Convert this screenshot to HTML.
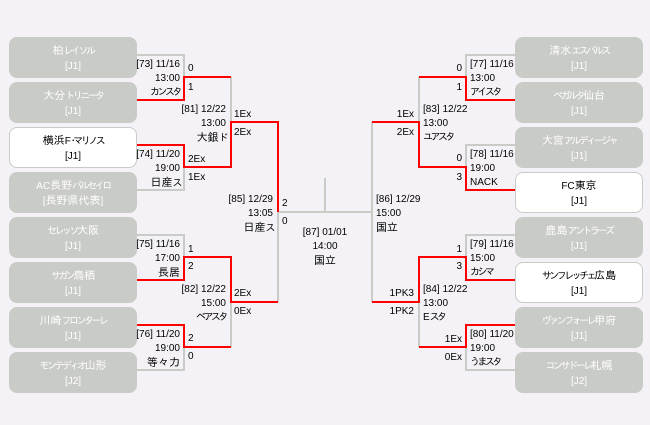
<!DOCTYPE html>
<html><head><meta charset="utf-8"><style>
html,body{margin:0;padding:0;width:650px;height:425px;overflow:hidden;background:#f4f2f6}
body{position:relative;font:10px/14px "Liberation Sans","IPAGothic","Noto Sans CJK JP",sans-serif;color:#000}
.b{position:absolute;width:128px;height:41px;border-radius:8px;background:#c9cbc7;color:#fff;text-align:center;line-height:15px;padding-top:7px;box-sizing:border-box;font-size:10px}
.w{background:#fff;color:#000;border:1px solid #c9cbc7;padding-top:6px}
.l,.r,.c{position:absolute;white-space:nowrap;height:14px}
.l{transform:translate(0,-6px)}
.r{transform:translate(-100%,-6px)}
.c{transform:translate(-50%,-6px)}
i{font-style:normal;font-size:10px;letter-spacing:-2.5px}
u{text-decoration:none;font-size:11px}
svg{position:absolute;left:0;top:0}
</style></head><body>
<div class="b" style="left:9px;top:37px"><u>柏</u><i>レイソル</i><br>[J1]</div>
<div class="b" style="left:9px;top:82px"><u>大分</u><i>トリニータ</i><br>[J1]</div>
<div class="b w" style="left:9px;top:127px"><u>横浜</u>F<i>･マリノス</i><br>[J1]</div>
<div class="b" style="left:9px;top:172px">AC<u>長野</u><i>パルセイロ</i><br>[<u>長野県代表</u>]</div>
<div class="b" style="left:9px;top:217px"><i>セレッソ</i><u>大阪</u><br>[J1]</div>
<div class="b" style="left:9px;top:262px"><i>サガン</i><u>鳥栖</u><br>[J1]</div>
<div class="b" style="left:9px;top:307px"><u>川崎</u><i>フロンターレ</i><br>[J1]</div>
<div class="b" style="left:9px;top:352px"><i>モンテディオ</i><u>山形</u><br>[J2]</div>
<div class="b" style="left:515px;top:37px"><u>清水</u><i>エスパルス</i><br>[J1]</div>
<div class="b" style="left:515px;top:82px"><i>ベガルタ</i><u>仙台</u><br>[J1]</div>
<div class="b" style="left:515px;top:127px"><u>大宮</u><i>アルディージャ</i><br>[J1]</div>
<div class="b w" style="left:515px;top:172px">FC<u>東京</u><br>[J1]</div>
<div class="b" style="left:515px;top:217px"><u>鹿島</u><i>アントラーズ</i><br>[J1]</div>
<div class="b w" style="left:515px;top:262px"><i>サンフレッチェ</i><u>広島</u><br>[J1]</div>
<div class="b" style="left:515px;top:307px"><i>ヴァンフォーレ</i><u>甲府</u><br>[J1]</div>
<div class="b" style="left:515px;top:352px"><i>コンサドーレ</i><u>札幌</u><br>[J2]</div>
<svg width="650" height="425" fill="none" stroke-width="2">
<g stroke="#c9cbc7">
<path d="M137 55H184V77M137 190H184V167M231 77V122M137 235H184V257M137 370H184V347M231 302V347"/>
<path d="M515 55H466V77M515 145H466V167M419 77V122M515 235H466V257M515 370H466V347M419 302V347"/>
<path d="M278 212V302M278 212H372M325 178V212M372 122V302"/>
</g>
<g stroke="#ff0000">
<path d="M137 100H184V77H231M137 145H184V167H231V122H278V212"/>
<path d="M137 280H184V257H231V302H278M137 325H184V347H231"/>
<path d="M515 100H466V77H419M515 190H466V167H419V122H372"/>
<path d="M515 280H466V257H419V302H372M515 325H466V347H419"/>
</g>
</svg>
<span class="r" style="left:180px;top:64px">[73] 11/16</span><span class="r" style="left:180px;top:78px">13:00</span><span class="r" style="left:180px;top:92px"><i>カンスタ</i></span>
<span class="r" style="left:180px;top:154px">[74] 11/20</span><span class="r" style="left:180px;top:168px">19:00</span><span class="r" style="left:180px;top:182px"><u>日産</u><i>ス</i></span>
<span class="r" style="left:180px;top:244px">[75] 11/16</span><span class="r" style="left:180px;top:258px">17:00</span><span class="r" style="left:180px;top:272px"><u>長居</u></span>
<span class="r" style="left:180px;top:334px">[76] 11/20</span><span class="r" style="left:180px;top:348px">19:00</span><span class="r" style="left:180px;top:362px"><u>等々力</u></span>
<span class="r" style="left:226px;top:109px">[81] 12/22</span><span class="r" style="left:226px;top:123px">13:00</span><span class="r" style="left:226px;top:137px"><u>大銀</u><i>ド</i></span>
<span class="r" style="left:226px;top:289px">[82] 12/22</span><span class="r" style="left:226px;top:303px">15:00</span><span class="r" style="left:226px;top:317px"><i>ベアスタ</i></span>
<span class="r" style="left:273px;top:199px">[85] 12/29</span><span class="r" style="left:273px;top:213px">13:05</span><span class="r" style="left:273px;top:227px"><u>日産</u><i>ス</i></span>
<span class="c" style="left:325px;top:232px">[87] 01/01</span><span class="c" style="left:325px;top:246px">14:00</span><span class="c" style="left:325px;top:260px"><u>国立</u></span>
<span class="l" style="left:376px;top:199px">[86] 12/29</span><span class="l" style="left:376px;top:213px">15:00</span><span class="l" style="left:376px;top:227px"><u>国立</u></span>
<span class="l" style="left:470px;top:64px">[77] 11/16</span><span class="l" style="left:470px;top:78px">13:00</span><span class="l" style="left:470px;top:92px"><i>アイスタ</i></span>
<span class="l" style="left:470px;top:154px">[78] 11/16</span><span class="l" style="left:470px;top:168px">19:00</span><span class="l" style="left:470px;top:182px">NACK</span>
<span class="l" style="left:470px;top:244px">[79] 11/16</span><span class="l" style="left:470px;top:258px">15:00</span><span class="l" style="left:470px;top:272px"><i>カシマ</i></span>
<span class="l" style="left:470px;top:334px">[80] 11/20</span><span class="l" style="left:470px;top:348px">19:00</span><span class="l" style="left:470px;top:362px"><i>うまスタ</i></span>
<span class="l" style="left:423px;top:109px">[83] 12/22</span><span class="l" style="left:423px;top:123px">13:00</span><span class="l" style="left:423px;top:137px"><i>ユアスタ</i></span>
<span class="l" style="left:423px;top:289px">[84] 12/22</span><span class="l" style="left:423px;top:303px">13:00</span><span class="l" style="left:423px;top:317px">E<i>スタ</i></span>
<span class="l" style="left:188px;top:68px">0</span><span class="l" style="left:188px;top:87px">1</span><span class="l" style="left:188px;top:159px">2Ex</span><span class="l" style="left:188px;top:177px">1Ex</span>
<span class="l" style="left:188px;top:249px">1</span><span class="l" style="left:188px;top:266px">2</span><span class="l" style="left:188px;top:338px">2</span><span class="l" style="left:188px;top:356px">0</span>
<span class="l" style="left:234px;top:114px">1Ex</span><span class="l" style="left:234px;top:132px">2Ex</span><span class="l" style="left:234px;top:293px">2Ex</span><span class="l" style="left:234px;top:311px">0Ex</span>
<span class="l" style="left:282px;top:203px">2</span><span class="l" style="left:282px;top:221px">0</span>
<span class="r" style="left:462px;top:68px">0</span><span class="r" style="left:462px;top:87px">1</span><span class="r" style="left:462px;top:158px">0</span><span class="r" style="left:462px;top:177px">3</span>
<span class="r" style="left:462px;top:249px">1</span><span class="r" style="left:462px;top:266px">3</span><span class="r" style="left:462px;top:339px">1Ex</span><span class="r" style="left:462px;top:357px">0Ex</span>
<span class="r" style="left:414px;top:114px">1Ex</span><span class="r" style="left:414px;top:132px">2Ex</span><span class="r" style="left:414px;top:293px">1PK3</span><span class="r" style="left:414px;top:311px">1PK2</span>
</body></html>
